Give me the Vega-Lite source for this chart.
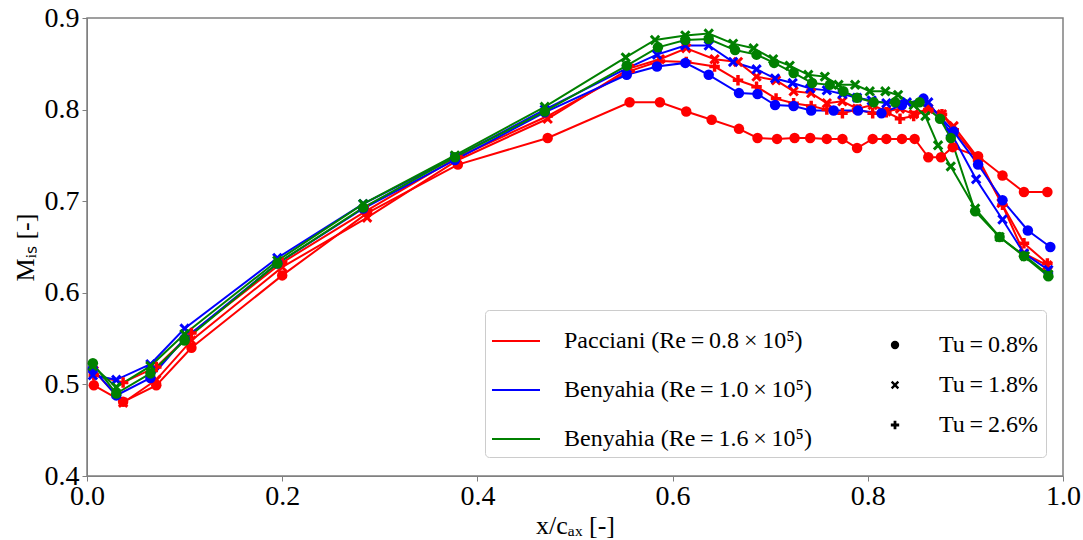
{
  "$schema": "https://vega.github.io/schema/vega-lite/v6.json",
  "width": 976,
  "height": 458,
  "autosize": "none",
  "padding": {"left": 87, "top": 18, "right": 20, "bottom": 64},
  "background": "white",
  "config": {"view": {"stroke": "#808080", "strokeWidth": 1.5}, "font": "Liberation Serif"},
  "datasets": {
    "pts": [
      {"src":"Pacciani (Re\u2009=\u20090.8\u2009×\u200910⁵)","tu":"Tu\u2009=\u20090.8%","x":0.007,"y":0.499},
      {"src":"Pacciani (Re\u2009=\u20090.8\u2009×\u200910⁵)","tu":"Tu\u2009=\u20090.8%","x":0.037,"y":0.481},
      {"src":"Pacciani (Re\u2009=\u20090.8\u2009×\u200910⁵)","tu":"Tu\u2009=\u20090.8%","x":0.071,"y":0.499},
      {"src":"Pacciani (Re\u2009=\u20090.8\u2009×\u200910⁵)","tu":"Tu\u2009=\u20090.8%","x":0.107,"y":0.54},
      {"src":"Pacciani (Re\u2009=\u20090.8\u2009×\u200910⁵)","tu":"Tu\u2009=\u20090.8%","x":0.2,"y":0.619},
      {"src":"Pacciani (Re\u2009=\u20090.8\u2009×\u200910⁵)","tu":"Tu\u2009=\u20090.8%","x":0.287,"y":0.687},
      {"src":"Pacciani (Re\u2009=\u20090.8\u2009×\u200910⁵)","tu":"Tu\u2009=\u20090.8%","x":0.38,"y":0.74},
      {"src":"Pacciani (Re\u2009=\u20090.8\u2009×\u200910⁵)","tu":"Tu\u2009=\u20090.8%","x":0.472,"y":0.769},
      {"src":"Pacciani (Re\u2009=\u20090.8\u2009×\u200910⁵)","tu":"Tu\u2009=\u20090.8%","x":0.556,"y":0.808},
      {"src":"Pacciani (Re\u2009=\u20090.8\u2009×\u200910⁵)","tu":"Tu\u2009=\u20090.8%","x":0.587,"y":0.808},
      {"src":"Pacciani (Re\u2009=\u20090.8\u2009×\u200910⁵)","tu":"Tu\u2009=\u20090.8%","x":0.614,"y":0.798},
      {"src":"Pacciani (Re\u2009=\u20090.8\u2009×\u200910⁵)","tu":"Tu\u2009=\u20090.8%","x":0.64,"y":0.789},
      {"src":"Pacciani (Re\u2009=\u20090.8\u2009×\u200910⁵)","tu":"Tu\u2009=\u20090.8%","x":0.668,"y":0.779},
      {"src":"Pacciani (Re\u2009=\u20090.8\u2009×\u200910⁵)","tu":"Tu\u2009=\u20090.8%","x":0.687,"y":0.769},
      {"src":"Pacciani (Re\u2009=\u20090.8\u2009×\u200910⁵)","tu":"Tu\u2009=\u20090.8%","x":0.707,"y":0.768},
      {"src":"Pacciani (Re\u2009=\u20090.8\u2009×\u200910⁵)","tu":"Tu\u2009=\u20090.8%","x":0.725,"y":0.769},
      {"src":"Pacciani (Re\u2009=\u20090.8\u2009×\u200910⁵)","tu":"Tu\u2009=\u20090.8%","x":0.741,"y":0.769},
      {"src":"Pacciani (Re\u2009=\u20090.8\u2009×\u200910⁵)","tu":"Tu\u2009=\u20090.8%","x":0.758,"y":0.768},
      {"src":"Pacciani (Re\u2009=\u20090.8\u2009×\u200910⁵)","tu":"Tu\u2009=\u20090.8%","x":0.774,"y":0.768},
      {"src":"Pacciani (Re\u2009=\u20090.8\u2009×\u200910⁵)","tu":"Tu\u2009=\u20090.8%","x":0.789,"y":0.758},
      {"src":"Pacciani (Re\u2009=\u20090.8\u2009×\u200910⁵)","tu":"Tu\u2009=\u20090.8%","x":0.805,"y":0.768},
      {"src":"Pacciani (Re\u2009=\u20090.8\u2009×\u200910⁵)","tu":"Tu\u2009=\u20090.8%","x":0.819,"y":0.768},
      {"src":"Pacciani (Re\u2009=\u20090.8\u2009×\u200910⁵)","tu":"Tu\u2009=\u20090.8%","x":0.835,"y":0.768},
      {"src":"Pacciani (Re\u2009=\u20090.8\u2009×\u200910⁵)","tu":"Tu\u2009=\u20090.8%","x":0.848,"y":0.768},
      {"src":"Pacciani (Re\u2009=\u20090.8\u2009×\u200910⁵)","tu":"Tu\u2009=\u20090.8%","x":0.862,"y":0.748},
      {"src":"Pacciani (Re\u2009=\u20090.8\u2009×\u200910⁵)","tu":"Tu\u2009=\u20090.8%","x":0.875,"y":0.748},
      {"src":"Pacciani (Re\u2009=\u20090.8\u2009×\u200910⁵)","tu":"Tu\u2009=\u20090.8%","x":0.887,"y":0.759},
      {"src":"Pacciani (Re\u2009=\u20090.8\u2009×\u200910⁵)","tu":"Tu\u2009=\u20090.8%","x":0.913,"y":0.749},
      {"src":"Pacciani (Re\u2009=\u20090.8\u2009×\u200910⁵)","tu":"Tu\u2009=\u20090.8%","x":0.938,"y":0.728},
      {"src":"Pacciani (Re\u2009=\u20090.8\u2009×\u200910⁵)","tu":"Tu\u2009=\u20090.8%","x":0.96,"y":0.71},
      {"src":"Pacciani (Re\u2009=\u20090.8\u2009×\u200910⁵)","tu":"Tu\u2009=\u20090.8%","x":0.984,"y":0.71},

      {"src":"Pacciani (Re\u2009=\u20090.8\u2009×\u200910⁵)","tu":"Tu\u2009=\u20091.8%","x":0.007,"y":0.515},
      {"src":"Pacciani (Re\u2009=\u20090.8\u2009×\u200910⁵)","tu":"Tu\u2009=\u20091.8%","x":0.037,"y":0.48},
      {"src":"Pacciani (Re\u2009=\u20090.8\u2009×\u200910⁵)","tu":"Tu\u2009=\u20091.8%","x":0.071,"y":0.505},
      {"src":"Pacciani (Re\u2009=\u20090.8\u2009×\u200910⁵)","tu":"Tu\u2009=\u20091.8%","x":0.107,"y":0.548},
      {"src":"Pacciani (Re\u2009=\u20090.8\u2009×\u200910⁵)","tu":"Tu\u2009=\u20091.8%","x":0.2,"y":0.628},
      {"src":"Pacciani (Re\u2009=\u20090.8\u2009×\u200910⁵)","tu":"Tu\u2009=\u20091.8%","x":0.287,"y":0.682},
      {"src":"Pacciani (Re\u2009=\u20090.8\u2009×\u200910⁵)","tu":"Tu\u2009=\u20091.8%","x":0.38,"y":0.745},
      {"src":"Pacciani (Re\u2009=\u20090.8\u2009×\u200910⁵)","tu":"Tu\u2009=\u20091.8%","x":0.472,"y":0.79},
      {"src":"Pacciani (Re\u2009=\u20090.8\u2009×\u200910⁵)","tu":"Tu\u2009=\u20091.8%","x":0.556,"y":0.845},
      {"src":"Pacciani (Re\u2009=\u20090.8\u2009×\u200910⁵)","tu":"Tu\u2009=\u20091.8%","x":0.587,"y":0.855},
      {"src":"Pacciani (Re\u2009=\u20090.8\u2009×\u200910⁵)","tu":"Tu\u2009=\u20091.8%","x":0.614,"y":0.867},
      {"src":"Pacciani (Re\u2009=\u20090.8\u2009×\u200910⁵)","tu":"Tu\u2009=\u20091.8%","x":0.643,"y":0.855},
      {"src":"Pacciani (Re\u2009=\u20090.8\u2009×\u200910⁵)","tu":"Tu\u2009=\u20091.8%","x":0.667,"y":0.852},
      {"src":"Pacciani (Re\u2009=\u20090.8\u2009×\u200910⁵)","tu":"Tu\u2009=\u20091.8%","x":0.686,"y":0.836},
      {"src":"Pacciani (Re\u2009=\u20090.8\u2009×\u200910⁵)","tu":"Tu\u2009=\u20091.8%","x":0.706,"y":0.832},
      {"src":"Pacciani (Re\u2009=\u20090.8\u2009×\u200910⁵)","tu":"Tu\u2009=\u20091.8%","x":0.724,"y":0.82},
      {"src":"Pacciani (Re\u2009=\u20090.8\u2009×\u200910⁵)","tu":"Tu\u2009=\u20091.8%","x":0.742,"y":0.818},
      {"src":"Pacciani (Re\u2009=\u20090.8\u2009×\u200910⁵)","tu":"Tu\u2009=\u20091.8%","x":0.758,"y":0.807},
      {"src":"Pacciani (Re\u2009=\u20090.8\u2009×\u200910⁵)","tu":"Tu\u2009=\u20091.8%","x":0.774,"y":0.809},
      {"src":"Pacciani (Re\u2009=\u20090.8\u2009×\u200910⁵)","tu":"Tu\u2009=\u20091.8%","x":0.789,"y":0.801},
      {"src":"Pacciani (Re\u2009=\u20090.8\u2009×\u200910⁵)","tu":"Tu\u2009=\u20091.8%","x":0.805,"y":0.805},
      {"src":"Pacciani (Re\u2009=\u20090.8\u2009×\u200910⁵)","tu":"Tu\u2009=\u20091.8%","x":0.819,"y":0.798},
      {"src":"Pacciani (Re\u2009=\u20090.8\u2009×\u200910⁵)","tu":"Tu\u2009=\u20091.8%","x":0.833,"y":0.801},
      {"src":"Pacciani (Re\u2009=\u20090.8\u2009×\u200910⁵)","tu":"Tu\u2009=\u20091.8%","x":0.847,"y":0.795},
      {"src":"Pacciani (Re\u2009=\u20090.8\u2009×\u200910⁵)","tu":"Tu\u2009=\u20091.8%","x":0.862,"y":0.801},
      {"src":"Pacciani (Re\u2009=\u20090.8\u2009×\u200910⁵)","tu":"Tu\u2009=\u20091.8%","x":0.876,"y":0.795},
      {"src":"Pacciani (Re\u2009=\u20090.8\u2009×\u200910⁵)","tu":"Tu\u2009=\u20091.8%","x":0.888,"y":0.782},
      {"src":"Pacciani (Re\u2009=\u20090.8\u2009×\u200910⁵)","tu":"Tu\u2009=\u20091.8%","x":0.913,"y":0.747},
      {"src":"Pacciani (Re\u2009=\u20090.8\u2009×\u200910⁵)","tu":"Tu\u2009=\u20091.8%","x":0.937,"y":0.698},
      {"src":"Pacciani (Re\u2009=\u20090.8\u2009×\u200910⁵)","tu":"Tu\u2009=\u20091.8%","x":0.96,"y":0.643},
      {"src":"Pacciani (Re\u2009=\u20090.8\u2009×\u200910⁵)","tu":"Tu\u2009=\u20091.8%","x":0.984,"y":0.63},

      {"src":"Pacciani (Re\u2009=\u20090.8\u2009×\u200910⁵)","tu":"Tu\u2009=\u20092.6%","x":0.007,"y":0.51},
      {"src":"Pacciani (Re\u2009=\u20090.8\u2009×\u200910⁵)","tu":"Tu\u2009=\u20092.6%","x":0.037,"y":0.502},
      {"src":"Pacciani (Re\u2009=\u20090.8\u2009×\u200910⁵)","tu":"Tu\u2009=\u20092.6%","x":0.071,"y":0.519},
      {"src":"Pacciani (Re\u2009=\u20090.8\u2009×\u200910⁵)","tu":"Tu\u2009=\u20092.6%","x":0.107,"y":0.556},
      {"src":"Pacciani (Re\u2009=\u20090.8\u2009×\u200910⁵)","tu":"Tu\u2009=\u20092.6%","x":0.2,"y":0.633},
      {"src":"Pacciani (Re\u2009=\u20090.8\u2009×\u200910⁵)","tu":"Tu\u2009=\u20092.6%","x":0.287,"y":0.69},
      {"src":"Pacciani (Re\u2009=\u20090.8\u2009×\u200910⁵)","tu":"Tu\u2009=\u20092.6%","x":0.38,"y":0.748},
      {"src":"Pacciani (Re\u2009=\u20090.8\u2009×\u200910⁵)","tu":"Tu\u2009=\u20092.6%","x":0.472,"y":0.793},
      {"src":"Pacciani (Re\u2009=\u20090.8\u2009×\u200910⁵)","tu":"Tu\u2009=\u20092.6%","x":0.556,"y":0.842},
      {"src":"Pacciani (Re\u2009=\u20090.8\u2009×\u200910⁵)","tu":"Tu\u2009=\u20092.6%","x":0.587,"y":0.853},
      {"src":"Pacciani (Re\u2009=\u20090.8\u2009×\u200910⁵)","tu":"Tu\u2009=\u20092.6%","x":0.614,"y":0.852},
      {"src":"Pacciani (Re\u2009=\u20090.8\u2009×\u200910⁵)","tu":"Tu\u2009=\u20092.6%","x":0.643,"y":0.847},
      {"src":"Pacciani (Re\u2009=\u20090.8\u2009×\u200910⁵)","tu":"Tu\u2009=\u20092.6%","x":0.667,"y":0.832},
      {"src":"Pacciani (Re\u2009=\u20090.8\u2009×\u200910⁵)","tu":"Tu\u2009=\u20092.6%","x":0.686,"y":0.825},
      {"src":"Pacciani (Re\u2009=\u20090.8\u2009×\u200910⁵)","tu":"Tu\u2009=\u20092.6%","x":0.706,"y":0.812},
      {"src":"Pacciani (Re\u2009=\u20090.8\u2009×\u200910⁵)","tu":"Tu\u2009=\u20092.6%","x":0.724,"y":0.807},
      {"src":"Pacciani (Re\u2009=\u20090.8\u2009×\u200910⁵)","tu":"Tu\u2009=\u20092.6%","x":0.742,"y":0.804},
      {"src":"Pacciani (Re\u2009=\u20090.8\u2009×\u200910⁵)","tu":"Tu\u2009=\u20092.6%","x":0.758,"y":0.8},
      {"src":"Pacciani (Re\u2009=\u20090.8\u2009×\u200910⁵)","tu":"Tu\u2009=\u20092.6%","x":0.774,"y":0.796},
      {"src":"Pacciani (Re\u2009=\u20090.8\u2009×\u200910⁵)","tu":"Tu\u2009=\u20092.6%","x":0.789,"y":0.8},
      {"src":"Pacciani (Re\u2009=\u20090.8\u2009×\u200910⁵)","tu":"Tu\u2009=\u20092.6%","x":0.805,"y":0.796},
      {"src":"Pacciani (Re\u2009=\u20090.8\u2009×\u200910⁵)","tu":"Tu\u2009=\u20092.6%","x":0.819,"y":0.797},
      {"src":"Pacciani (Re\u2009=\u20090.8\u2009×\u200910⁵)","tu":"Tu\u2009=\u20092.6%","x":0.833,"y":0.79},
      {"src":"Pacciani (Re\u2009=\u20090.8\u2009×\u200910⁵)","tu":"Tu\u2009=\u20092.6%","x":0.847,"y":0.793},
      {"src":"Pacciani (Re\u2009=\u20090.8\u2009×\u200910⁵)","tu":"Tu\u2009=\u20092.6%","x":0.862,"y":0.8},
      {"src":"Pacciani (Re\u2009=\u20090.8\u2009×\u200910⁵)","tu":"Tu\u2009=\u20092.6%","x":0.876,"y":0.795},
      {"src":"Pacciani (Re\u2009=\u20090.8\u2009×\u200910⁵)","tu":"Tu\u2009=\u20092.6%","x":0.888,"y":0.778},
      {"src":"Pacciani (Re\u2009=\u20090.8\u2009×\u200910⁵)","tu":"Tu\u2009=\u20092.6%","x":0.913,"y":0.745},
      {"src":"Pacciani (Re\u2009=\u20090.8\u2009×\u200910⁵)","tu":"Tu\u2009=\u20092.6%","x":0.938,"y":0.696},
      {"src":"Pacciani (Re\u2009=\u20090.8\u2009×\u200910⁵)","tu":"Tu\u2009=\u20092.6%","x":0.96,"y":0.654},
      {"src":"Pacciani (Re\u2009=\u20090.8\u2009×\u200910⁵)","tu":"Tu\u2009=\u20092.6%","x":0.984,"y":0.632},

      {"src":"Benyahia (Re\u2009=\u20091.0\u2009×\u200910⁵)","tu":"Tu\u2009=\u20090.8%","x":0.006,"y":0.517},
      {"src":"Benyahia (Re\u2009=\u20091.0\u2009×\u200910⁵)","tu":"Tu\u2009=\u20090.8%","x":0.03,"y":0.488},
      {"src":"Benyahia (Re\u2009=\u20091.0\u2009×\u200910⁵)","tu":"Tu\u2009=\u20090.8%","x":0.065,"y":0.507},
      {"src":"Benyahia (Re\u2009=\u20091.0\u2009×\u200910⁵)","tu":"Tu\u2009=\u20090.8%","x":0.1,"y":0.55},
      {"src":"Benyahia (Re\u2009=\u20091.0\u2009×\u200910⁵)","tu":"Tu\u2009=\u20090.8%","x":0.195,"y":0.632},
      {"src":"Benyahia (Re\u2009=\u20091.0\u2009×\u200910⁵)","tu":"Tu\u2009=\u20090.8%","x":0.283,"y":0.692},
      {"src":"Benyahia (Re\u2009=\u20091.0\u2009×\u200910⁵)","tu":"Tu\u2009=\u20090.8%","x":0.377,"y":0.745},
      {"src":"Benyahia (Re\u2009=\u20091.0\u2009×\u200910⁵)","tu":"Tu\u2009=\u20090.8%","x":0.469,"y":0.797},
      {"src":"Benyahia (Re\u2009=\u20091.0\u2009×\u200910⁵)","tu":"Tu\u2009=\u20090.8%","x":0.553,"y":0.838},
      {"src":"Benyahia (Re\u2009=\u20091.0\u2009×\u200910⁵)","tu":"Tu\u2009=\u20090.8%","x":0.584,"y":0.847},
      {"src":"Benyahia (Re\u2009=\u20091.0\u2009×\u200910⁵)","tu":"Tu\u2009=\u20090.8%","x":0.613,"y":0.851},
      {"src":"Benyahia (Re\u2009=\u20091.0\u2009×\u200910⁵)","tu":"Tu\u2009=\u20090.8%","x":0.637,"y":0.838},
      {"src":"Benyahia (Re\u2009=\u20091.0\u2009×\u200910⁵)","tu":"Tu\u2009=\u20090.8%","x":0.668,"y":0.818},
      {"src":"Benyahia (Re\u2009=\u20091.0\u2009×\u200910⁵)","tu":"Tu\u2009=\u20090.8%","x":0.687,"y":0.817},
      {"src":"Benyahia (Re\u2009=\u20091.0\u2009×\u200910⁵)","tu":"Tu\u2009=\u20090.8%","x":0.705,"y":0.805},
      {"src":"Benyahia (Re\u2009=\u20091.0\u2009×\u200910⁵)","tu":"Tu\u2009=\u20090.8%","x":0.724,"y":0.804},
      {"src":"Benyahia (Re\u2009=\u20091.0\u2009×\u200910⁵)","tu":"Tu\u2009=\u20090.8%","x":0.742,"y":0.799},
      {"src":"Benyahia (Re\u2009=\u20091.0\u2009×\u200910⁵)","tu":"Tu\u2009=\u20090.8%","x":0.765,"y":0.799},
      {"src":"Benyahia (Re\u2009=\u20091.0\u2009×\u200910⁵)","tu":"Tu\u2009=\u20090.8%","x":0.79,"y":0.799},
      {"src":"Benyahia (Re\u2009=\u20091.0\u2009×\u200910⁵)","tu":"Tu\u2009=\u20090.8%","x":0.814,"y":0.796},
      {"src":"Benyahia (Re\u2009=\u20091.0\u2009×\u200910⁵)","tu":"Tu\u2009=\u20090.8%","x":0.835,"y":0.805},
      {"src":"Benyahia (Re\u2009=\u20091.0\u2009×\u200910⁵)","tu":"Tu\u2009=\u20090.8%","x":0.857,"y":0.812},
      {"src":"Benyahia (Re\u2009=\u20091.0\u2009×\u200910⁵)","tu":"Tu\u2009=\u20090.8%","x":0.888,"y":0.776},
      {"src":"Benyahia (Re\u2009=\u20091.0\u2009×\u200910⁵)","tu":"Tu\u2009=\u20090.8%","x":0.913,"y":0.74},
      {"src":"Benyahia (Re\u2009=\u20091.0\u2009×\u200910⁵)","tu":"Tu\u2009=\u20090.8%","x":0.938,"y":0.701},
      {"src":"Benyahia (Re\u2009=\u20091.0\u2009×\u200910⁵)","tu":"Tu\u2009=\u20090.8%","x":0.964,"y":0.668},
      {"src":"Benyahia (Re\u2009=\u20091.0\u2009×\u200910⁵)","tu":"Tu\u2009=\u20090.8%","x":0.987,"y":0.65},

      {"src":"Benyahia (Re\u2009=\u20091.0\u2009×\u200910⁵)","tu":"Tu\u2009=\u20091.8%","x":0.006,"y":0.51},
      {"src":"Benyahia (Re\u2009=\u20091.0\u2009×\u200910⁵)","tu":"Tu\u2009=\u20091.8%","x":0.03,"y":0.505},
      {"src":"Benyahia (Re\u2009=\u20091.0\u2009×\u200910⁵)","tu":"Tu\u2009=\u20091.8%","x":0.065,"y":0.522},
      {"src":"Benyahia (Re\u2009=\u20091.0\u2009×\u200910⁵)","tu":"Tu\u2009=\u20091.8%","x":0.1,"y":0.561},
      {"src":"Benyahia (Re\u2009=\u20091.0\u2009×\u200910⁵)","tu":"Tu\u2009=\u20091.8%","x":0.195,"y":0.638},
      {"src":"Benyahia (Re\u2009=\u20091.0\u2009×\u200910⁵)","tu":"Tu\u2009=\u20091.8%","x":0.283,"y":0.697},
      {"src":"Benyahia (Re\u2009=\u20091.0\u2009×\u200910⁵)","tu":"Tu\u2009=\u20091.8%","x":0.377,"y":0.748},
      {"src":"Benyahia (Re\u2009=\u20091.0\u2009×\u200910⁵)","tu":"Tu\u2009=\u20091.8%","x":0.469,"y":0.8},
      {"src":"Benyahia (Re\u2009=\u20091.0\u2009×\u200910⁵)","tu":"Tu\u2009=\u20091.8%","x":0.553,"y":0.845},
      {"src":"Benyahia (Re\u2009=\u20091.0\u2009×\u200910⁵)","tu":"Tu\u2009=\u20091.8%","x":0.584,"y":0.86},
      {"src":"Benyahia (Re\u2009=\u20091.0\u2009×\u200910⁵)","tu":"Tu\u2009=\u20091.8%","x":0.613,"y":0.87},
      {"src":"Benyahia (Re\u2009=\u20091.0\u2009×\u200910⁵)","tu":"Tu\u2009=\u20091.8%","x":0.637,"y":0.87},
      {"src":"Benyahia (Re\u2009=\u20091.0\u2009×\u200910⁵)","tu":"Tu\u2009=\u20091.8%","x":0.662,"y":0.852},
      {"src":"Benyahia (Re\u2009=\u20091.0\u2009×\u200910⁵)","tu":"Tu\u2009=\u20091.8%","x":0.686,"y":0.844},
      {"src":"Benyahia (Re\u2009=\u20091.0\u2009×\u200910⁵)","tu":"Tu\u2009=\u20091.8%","x":0.705,"y":0.834},
      {"src":"Benyahia (Re\u2009=\u20091.0\u2009×\u200910⁵)","tu":"Tu\u2009=\u20091.8%","x":0.723,"y":0.829},
      {"src":"Benyahia (Re\u2009=\u20091.0\u2009×\u200910⁵)","tu":"Tu\u2009=\u20091.8%","x":0.741,"y":0.823},
      {"src":"Benyahia (Re\u2009=\u20091.0\u2009×\u200910⁵)","tu":"Tu\u2009=\u20091.8%","x":0.758,"y":0.821},
      {"src":"Benyahia (Re\u2009=\u20091.0\u2009×\u200910⁵)","tu":"Tu\u2009=\u20091.8%","x":0.774,"y":0.817},
      {"src":"Benyahia (Re\u2009=\u20091.0\u2009×\u200910⁵)","tu":"Tu\u2009=\u20091.8%","x":0.789,"y":0.813},
      {"src":"Benyahia (Re\u2009=\u20091.0\u2009×\u200910⁵)","tu":"Tu\u2009=\u20091.8%","x":0.804,"y":0.81},
      {"src":"Benyahia (Re\u2009=\u20091.0\u2009×\u200910⁵)","tu":"Tu\u2009=\u20091.8%","x":0.819,"y":0.807},
      {"src":"Benyahia (Re\u2009=\u20091.0\u2009×\u200910⁵)","tu":"Tu\u2009=\u20091.8%","x":0.84,"y":0.808},
      {"src":"Benyahia (Re\u2009=\u20091.0\u2009×\u200910⁵)","tu":"Tu\u2009=\u20091.8%","x":0.862,"y":0.808},
      {"src":"Benyahia (Re\u2009=\u20091.0\u2009×\u200910⁵)","tu":"Tu\u2009=\u20091.8%","x":0.885,"y":0.775},
      {"src":"Benyahia (Re\u2009=\u20091.0\u2009×\u200910⁵)","tu":"Tu\u2009=\u20091.8%","x":0.911,"y":0.724},
      {"src":"Benyahia (Re\u2009=\u20091.0\u2009×\u200910⁵)","tu":"Tu\u2009=\u20091.8%","x":0.938,"y":0.68},
      {"src":"Benyahia (Re\u2009=\u20091.0\u2009×\u200910⁵)","tu":"Tu\u2009=\u20091.8%","x":0.96,"y":0.643},
      {"src":"Benyahia (Re\u2009=\u20091.0\u2009×\u200910⁵)","tu":"Tu\u2009=\u20091.8%","x":0.985,"y":0.625},

      {"src":"Benyahia (Re\u2009=\u20091.6\u2009×\u200910⁵)","tu":"Tu\u2009=\u20090.8%","x":0.006,"y":0.523},
      {"src":"Benyahia (Re\u2009=\u20091.6\u2009×\u200910⁵)","tu":"Tu\u2009=\u20090.8%","x":0.03,"y":0.49},
      {"src":"Benyahia (Re\u2009=\u20091.6\u2009×\u200910⁵)","tu":"Tu\u2009=\u20090.8%","x":0.065,"y":0.512},
      {"src":"Benyahia (Re\u2009=\u20091.6\u2009×\u200910⁵)","tu":"Tu\u2009=\u20090.8%","x":0.1,"y":0.548},
      {"src":"Benyahia (Re\u2009=\u20091.6\u2009×\u200910⁵)","tu":"Tu\u2009=\u20090.8%","x":0.195,"y":0.632},
      {"src":"Benyahia (Re\u2009=\u20091.6\u2009×\u200910⁵)","tu":"Tu\u2009=\u20090.8%","x":0.283,"y":0.693},
      {"src":"Benyahia (Re\u2009=\u20091.6\u2009×\u200910⁵)","tu":"Tu\u2009=\u20090.8%","x":0.377,"y":0.748},
      {"src":"Benyahia (Re\u2009=\u20091.6\u2009×\u200910⁵)","tu":"Tu\u2009=\u20090.8%","x":0.469,"y":0.798},
      {"src":"Benyahia (Re\u2009=\u20091.6\u2009×\u200910⁵)","tu":"Tu\u2009=\u20090.8%","x":0.553,"y":0.848},
      {"src":"Benyahia (Re\u2009=\u20091.6\u2009×\u200910⁵)","tu":"Tu\u2009=\u20090.8%","x":0.585,"y":0.868},
      {"src":"Benyahia (Re\u2009=\u20091.6\u2009×\u200910⁵)","tu":"Tu\u2009=\u20090.8%","x":0.613,"y":0.876},
      {"src":"Benyahia (Re\u2009=\u20091.6\u2009×\u200910⁵)","tu":"Tu\u2009=\u20090.8%","x":0.637,"y":0.877},
      {"src":"Benyahia (Re\u2009=\u20091.6\u2009×\u200910⁵)","tu":"Tu\u2009=\u20090.8%","x":0.664,"y":0.865},
      {"src":"Benyahia (Re\u2009=\u20091.6\u2009×\u200910⁵)","tu":"Tu\u2009=\u20090.8%","x":0.686,"y":0.86},
      {"src":"Benyahia (Re\u2009=\u20091.6\u2009×\u200910⁵)","tu":"Tu\u2009=\u20090.8%","x":0.704,"y":0.851},
      {"src":"Benyahia (Re\u2009=\u20091.6\u2009×\u200910⁵)","tu":"Tu\u2009=\u20090.8%","x":0.724,"y":0.84},
      {"src":"Benyahia (Re\u2009=\u20091.6\u2009×\u200910⁵)","tu":"Tu\u2009=\u20090.8%","x":0.743,"y":0.829},
      {"src":"Benyahia (Re\u2009=\u20091.6\u2009×\u200910⁵)","tu":"Tu\u2009=\u20090.8%","x":0.761,"y":0.827},
      {"src":"Benyahia (Re\u2009=\u20091.6\u2009×\u200910⁵)","tu":"Tu\u2009=\u20090.8%","x":0.775,"y":0.82},
      {"src":"Benyahia (Re\u2009=\u20091.6\u2009×\u200910⁵)","tu":"Tu\u2009=\u20090.8%","x":0.789,"y":0.813},
      {"src":"Benyahia (Re\u2009=\u20091.6\u2009×\u200910⁵)","tu":"Tu\u2009=\u20090.8%","x":0.806,"y":0.808},
      {"src":"Benyahia (Re\u2009=\u20091.6\u2009×\u200910⁵)","tu":"Tu\u2009=\u20090.8%","x":0.828,"y":0.808},
      {"src":"Benyahia (Re\u2009=\u20091.6\u2009×\u200910⁵)","tu":"Tu\u2009=\u20090.8%","x":0.853,"y":0.808},
      {"src":"Benyahia (Re\u2009=\u20091.6\u2009×\u200910⁵)","tu":"Tu\u2009=\u20090.8%","x":0.874,"y":0.79},
      {"src":"Benyahia (Re\u2009=\u20091.6\u2009×\u200910⁵)","tu":"Tu\u2009=\u20090.8%","x":0.885,"y":0.769},
      {"src":"Benyahia (Re\u2009=\u20091.6\u2009×\u200910⁵)","tu":"Tu\u2009=\u20090.8%","x":0.91,"y":0.689},
      {"src":"Benyahia (Re\u2009=\u20091.6\u2009×\u200910⁵)","tu":"Tu\u2009=\u20090.8%","x":0.935,"y":0.661},
      {"src":"Benyahia (Re\u2009=\u20091.6\u2009×\u200910⁵)","tu":"Tu\u2009=\u20090.8%","x":0.96,"y":0.64},
      {"src":"Benyahia (Re\u2009=\u20091.6\u2009×\u200910⁵)","tu":"Tu\u2009=\u20090.8%","x":0.985,"y":0.618},

      {"src":"Benyahia (Re\u2009=\u20091.6\u2009×\u200910⁵)","tu":"Tu\u2009=\u20091.8%","x":0.006,"y":0.52},
      {"src":"Benyahia (Re\u2009=\u20091.6\u2009×\u200910⁵)","tu":"Tu\u2009=\u20091.8%","x":0.03,"y":0.497},
      {"src":"Benyahia (Re\u2009=\u20091.6\u2009×\u200910⁵)","tu":"Tu\u2009=\u20091.8%","x":0.065,"y":0.52},
      {"src":"Benyahia (Re\u2009=\u20091.6\u2009×\u200910⁵)","tu":"Tu\u2009=\u20091.8%","x":0.1,"y":0.555},
      {"src":"Benyahia (Re\u2009=\u20091.6\u2009×\u200910⁵)","tu":"Tu\u2009=\u20091.8%","x":0.195,"y":0.635},
      {"src":"Benyahia (Re\u2009=\u20091.6\u2009×\u200910⁵)","tu":"Tu\u2009=\u20091.8%","x":0.283,"y":0.697},
      {"src":"Benyahia (Re\u2009=\u20091.6\u2009×\u200910⁵)","tu":"Tu\u2009=\u20091.8%","x":0.377,"y":0.75},
      {"src":"Benyahia (Re\u2009=\u20091.6\u2009×\u200910⁵)","tu":"Tu\u2009=\u20091.8%","x":0.469,"y":0.803},
      {"src":"Benyahia (Re\u2009=\u20091.6\u2009×\u200910⁵)","tu":"Tu\u2009=\u20091.8%","x":0.552,"y":0.857},
      {"src":"Benyahia (Re\u2009=\u20091.6\u2009×\u200910⁵)","tu":"Tu\u2009=\u20091.8%","x":0.582,"y":0.876},
      {"src":"Benyahia (Re\u2009=\u20091.6\u2009×\u200910⁵)","tu":"Tu\u2009=\u20091.8%","x":0.613,"y":0.881},
      {"src":"Benyahia (Re\u2009=\u20091.6\u2009×\u200910⁵)","tu":"Tu\u2009=\u20091.8%","x":0.637,"y":0.883},
      {"src":"Benyahia (Re\u2009=\u20091.6\u2009×\u200910⁵)","tu":"Tu\u2009=\u20091.8%","x":0.662,"y":0.872},
      {"src":"Benyahia (Re\u2009=\u20091.6\u2009×\u200910⁵)","tu":"Tu\u2009=\u20091.8%","x":0.683,"y":0.867},
      {"src":"Benyahia (Re\u2009=\u20091.6\u2009×\u200910⁵)","tu":"Tu\u2009=\u20091.8%","x":0.703,"y":0.855},
      {"src":"Benyahia (Re\u2009=\u20091.6\u2009×\u200910⁵)","tu":"Tu\u2009=\u20091.8%","x":0.72,"y":0.848},
      {"src":"Benyahia (Re\u2009=\u20091.6\u2009×\u200910⁵)","tu":"Tu\u2009=\u20091.8%","x":0.739,"y":0.838},
      {"src":"Benyahia (Re\u2009=\u20091.6\u2009×\u200910⁵)","tu":"Tu\u2009=\u20091.8%","x":0.756,"y":0.836},
      {"src":"Benyahia (Re\u2009=\u20091.6\u2009×\u200910⁵)","tu":"Tu\u2009=\u20091.8%","x":0.77,"y":0.827},
      {"src":"Benyahia (Re\u2009=\u20091.6\u2009×\u200910⁵)","tu":"Tu\u2009=\u20091.8%","x":0.787,"y":0.827},
      {"src":"Benyahia (Re\u2009=\u20091.6\u2009×\u200910⁵)","tu":"Tu\u2009=\u20091.8%","x":0.802,"y":0.82},
      {"src":"Benyahia (Re\u2009=\u20091.6\u2009×\u200910⁵)","tu":"Tu\u2009=\u20091.8%","x":0.818,"y":0.82},
      {"src":"Benyahia (Re\u2009=\u20091.6\u2009×\u200910⁵)","tu":"Tu\u2009=\u20091.8%","x":0.831,"y":0.816},
      {"src":"Benyahia (Re\u2009=\u20091.6\u2009×\u200910⁵)","tu":"Tu\u2009=\u20091.8%","x":0.847,"y":0.805},
      {"src":"Benyahia (Re\u2009=\u20091.6\u2009×\u200910⁵)","tu":"Tu\u2009=\u20091.8%","x":0.859,"y":0.793},
      {"src":"Benyahia (Re\u2009=\u20091.6\u2009×\u200910⁵)","tu":"Tu\u2009=\u20091.8%","x":0.872,"y":0.761},
      {"src":"Benyahia (Re\u2009=\u20091.6\u2009×\u200910⁵)","tu":"Tu\u2009=\u20091.8%","x":0.885,"y":0.738},
      {"src":"Benyahia (Re\u2009=\u20091.6\u2009×\u200910⁵)","tu":"Tu\u2009=\u20091.8%","x":0.91,"y":0.692},
      {"src":"Benyahia (Re\u2009=\u20091.6\u2009×\u200910⁵)","tu":"Tu\u2009=\u20091.8%","x":0.935,"y":0.661},
      {"src":"Benyahia (Re\u2009=\u20091.6\u2009×\u200910⁵)","tu":"Tu\u2009=\u20091.8%","x":0.961,"y":0.64},
      {"src":"Benyahia (Re\u2009=\u20091.6\u2009×\u200910⁵)","tu":"Tu\u2009=\u20091.8%","x":0.985,"y":0.62}
    ]
  },
  "data": {"name": "pts"},
  "encoding": {
    "x": {
      "field": "x", "type": "quantitative",
      "scale": {"domain": [0, 1], "nice": false, "zero": false},
      "axis": {
        "title": "x/cₐₓ [-]", "values": [0, 0.2, 0.4, 0.6, 0.8, 1], "format": ".1f",
        "grid": false, "labelFont": "Liberation Serif", "titleFont": "Liberation Serif",
        "labelFontSize": 28, "titleFontSize": 26, "titleFontWeight": "normal",
        "labelColor": "black", "titleColor": "black", "domainColor": "#808080",
        "tickColor": "#808080", "tickSize": 5, "labelPadding": 1, "titlePadding": 2, "labelFlush": false
      }
    },
    "y": {
      "field": "y", "type": "quantitative",
      "scale": {"domain": [0.4, 0.9], "nice": false, "zero": false},
      "axis": {
        "title": "Mᵢₛ [-]", "values": [0.4, 0.5, 0.6, 0.7, 0.8, 0.9], "format": ".1f",
        "grid": false, "labelFont": "Liberation Serif", "titleFont": "Liberation Serif",
        "labelFontSize": 28, "titleFontSize": 26, "titleFontWeight": "normal",
        "labelColor": "black", "titleColor": "black", "domainColor": "#808080",
        "tickColor": "#808080", "tickSize": 5, "labelPadding": 3, "titlePadding": 6, "labelFlush": false
      }
    }
  },
  "layer": [
    {
      "mark": {"type": "line", "strokeWidth": 2},
      "encoding": {
        "color": {
          "field": "src", "type": "nominal",
          "scale": {
            "domain": ["Pacciani (Re\u2009=\u20090.8\u2009×\u200910⁵)", "Benyahia (Re\u2009=\u20091.0\u2009×\u200910⁵)", "Benyahia (Re\u2009=\u20091.6\u2009×\u200910⁵)"],
            "range": ["#ff0000", "#0000ff", "#008000"]
          },
          "legend": {
            "orient": "none", "legendX": 398, "legendY": 292,
            "title": "\u200b\u00a0\u200b", "titleOrient": "right", "titleAnchor": "end", "titlePadding": 227, "titleFontSize": 4,
            "symbolType": "stroke", "symbolSize": 2304, "symbolStrokeWidth": 2,
            "labelFont": "Liberation Serif", "labelFontSize": 24, "labelColor": "black",
            "labelOffset": 23, "labelLimit": 1000, "rowPadding": 12, "padding": 6,
            "strokeColor": "#cccccc", "cornerRadius": 4
          }
        },
        "detail": {"field": "tu"}
      }
    },
    {
      "mark": {"type": "point", "filled": true, "size": 110, "opacity": 1, "strokeWidth": 0},
      "encoding": {
        "color": {"field": "src", "type": "nominal", "legend": null},
        "shape": {
          "field": "tu", "type": "nominal",
          "scale": {
            "domain": ["Tu\u2009=\u20090.8%", "Tu\u2009=\u20091.8%", "Tu\u2009=\u20092.6%"],
            "range": ["circle", "M-1,-0.6L-0.6,-1L0,-0.4L0.6,-1L1,-0.6L0.4,0L1,0.6L0.6,1L0,0.4L-0.6,1L-1,0.6L-0.4,0Z", "M-0.33,-1L0.33,-1L0.33,-0.33L1,-0.33L1,0.33L0.33,0.33L0.33,1L-0.33,1L-0.33,0.33L-1,0.33L-1,-0.33L-0.33,-0.33Z"]
          },
          "legend": {
            "orient": "none", "legendX": 796, "legendY": 315, "title": null,
            "symbolSize": 70, "symbolFillColor": "black", "symbolStrokeColor": "black", "symbolStrokeWidth": 0,
            "labelFont": "Liberation Serif", "labelFontSize": 24, "labelColor": "black",
            "labelOffset": 32, "rowPadding": 16, "padding": 0, "labelLimit": 500
          }
        }
      }
    }
  ]
}
